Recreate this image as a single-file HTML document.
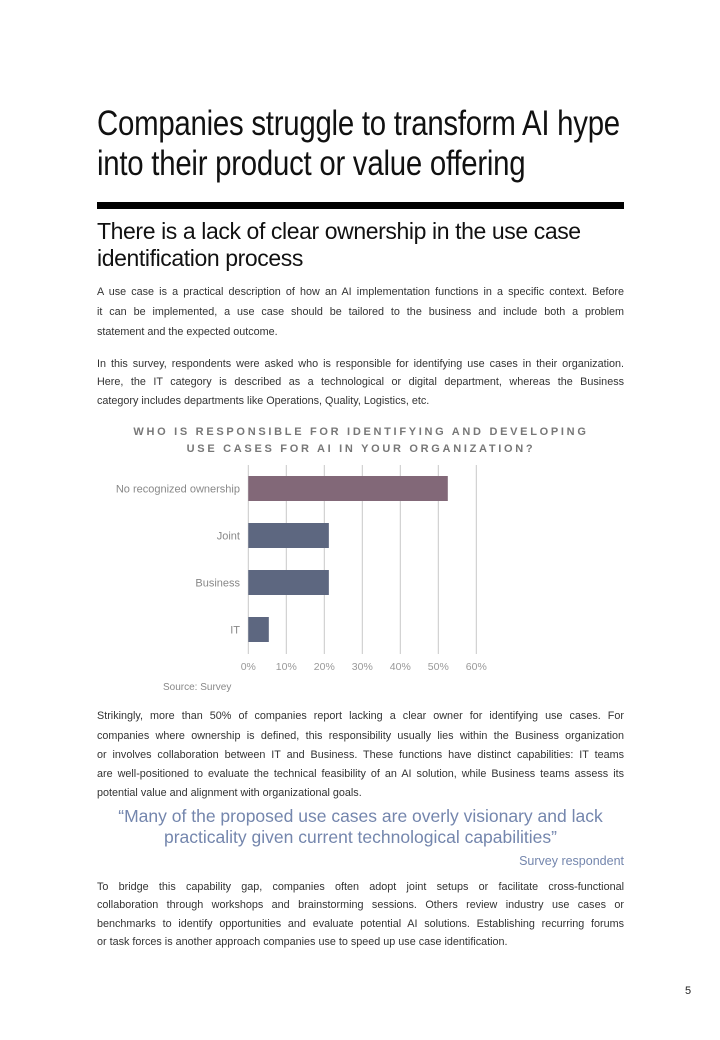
<!DOCTYPE html>
<html><head><meta charset="utf-8">
<style>
body{margin:0;background:#fff;}
#page{position:relative;width:720px;height:1040px;overflow:hidden;font-family:"Liberation Sans",sans-serif;color:#333;}
.t{position:absolute;white-space:nowrap;}
.title{left:97px;font-size:35px;color:#111;transform:scaleX(0.84);transform-origin:left top;letter-spacing:-0.3px;}
.sub{left:97px;font-size:23px;color:#111;letter-spacing:-0.4px;}
.ln{position:absolute;left:97px;width:527px;font-size:10.8px;white-space:nowrap;text-align:justify;text-align-last:justify;color:#333;}
.ln.l{text-align-last:left;}
.quote{position:absolute;left:97px;width:527px;text-align:center;font-size:17.5px;line-height:21px;color:#7486ad;}
</style></head>
<body>
<div id="page">
<div class="t title" style="top:104px">Companies struggle to transform AI hype</div>
<div class="t title" style="top:144px">into their product or value offering</div>
<div style="position:absolute;left:97px;top:202px;width:527px;height:7px;background:#000"></div>
<div class="t sub" style="top:218px">There is a lack of clear ownership in the use case</div>
<div class="t sub" style="top:245px">identification process</div>

<div>
<div class="ln" style="top:286px">A use case is a practical description of how an AI implementation functions in a specific context. Before</div>
<div class="ln" style="top:306px">it can be implemented, a use case should be tailored to the business and include both a problem</div>
<div class="ln l" style="top:326px">statement and the expected outcome.</div>
</div>
<div>
<div class="ln" style="top:358px">In this survey, respondents were asked who is responsible for identifying use cases in their organization.</div>
<div class="ln" style="top:376px">Here, the IT category is described as a technological or digital department, whereas the Business</div>
<div class="ln l" style="top:395px">category includes departments like Operations, Quality, Logistics, etc.</div>
</div>

<svg id="chart" style="position:absolute;left:0;top:0" width="720" height="700">
<text x="361" y="435" text-anchor="middle" font-size="11" font-weight="bold" fill="#777" letter-spacing="2.7">WHO IS RESPONSIBLE FOR IDENTIFYING AND DEVELOPING</text>
<text x="361" y="452" text-anchor="middle" font-size="11" font-weight="bold" fill="#777" letter-spacing="2.7">USE CASES FOR AI IN YOUR ORGANIZATION?</text>
<g id="grid"></g><g id="bars"></g><g id="labels"></g>
<text x="163" y="690" font-size="10" fill="#888">Source: Survey</text>
</svg>

<div>
<div class="ln" style="top:710px">Strikingly, more than 50% of companies report lacking a clear owner for identifying use cases. For</div>
<div class="ln" style="top:730px">companies where ownership is defined, this responsibility usually lies within the Business organization</div>
<div class="ln" style="top:749px">or involves collaboration between IT and Business. These functions have distinct capabilities: IT teams</div>
<div class="ln" style="top:768px">are well-positioned to evaluate the technical feasibility of an AI solution, while Business teams assess its</div>
<div class="ln l" style="top:787px">potential value and alignment with organizational goals.</div>
</div>
<div class="quote" style="top:806px">“Many of the proposed use cases are overly visionary and lack<br>practicality given current technological capabilities”</div>
<div class="t" style="right:96px;top:854px;font-size:12.5px;color:#7486ad">Survey respondent</div>
<div>
<div class="ln" style="top:881px">To bridge this capability gap, companies often adopt joint setups or facilitate cross-functional</div>
<div class="ln" style="top:899px">collaboration through workshops and brainstorming sessions. Others review industry use cases or</div>
<div class="ln" style="top:918px">benchmarks to identify opportunities and evaluate potential AI solutions. Establishing recurring forums</div>
<div class="ln l" style="top:936px">or task forces is another approach companies use to speed up use case identification.</div>
</div>
<div class="t" style="left:685px;top:985px;font-size:11px;color:#222">5</div>
</div>
<script>
const categories=["No recognized ownership","Joint","Business","IT"];
const values=[52.5,21.2,21.2,5.4];
const ticks=[0,10,20,30,40,50,60];
const tickLabels=["0%","10%","20%","30%","40%","50%","60%"];
const barColors=["#826878","#5d6780","#5d6780","#5d6780"];
const NS="http://www.w3.org/2000/svg";
const x0=248.3,pxPer=3.8;
const xs=v=>x0+v*pxPer;
const yTop=465,band=47,barH=25,yFirst=476;
const ys=i=>yFirst+i*band;
const grid=document.getElementById('grid'),bars=document.getElementById('bars'),labels=document.getElementById('labels');
ticks.forEach((t,i)=>{
 const l=document.createElementNS(NS,'line');
 l.setAttribute('x1',xs(t));l.setAttribute('x2',xs(t));l.setAttribute('y1',yTop);l.setAttribute('y2',654);
 l.setAttribute('stroke','#c8c8c8');l.setAttribute('stroke-width','1');
 
 
 grid.appendChild(l);
 const tx=document.createElementNS(NS,'text');
 tx.setAttribute('x',xs(t));tx.setAttribute('y',670);tx.setAttribute('text-anchor','middle');
 tx.setAttribute('font-size','10.5');tx.setAttribute('fill','#999');
 tx.textContent=tickLabels[i];
 
 
 labels.appendChild(tx);
});
categories.forEach((c,i)=>{
 const r=document.createElementNS(NS,'rect');
 r.setAttribute('x',xs(0));r.setAttribute('y',ys(i));r.setAttribute('width',xs(values[i])-xs(0));r.setAttribute('height',barH);
 r.setAttribute('fill',barColors[i]);
 
 
 bars.appendChild(r);
 const tx=document.createElementNS(NS,'text');
 tx.setAttribute('x',240);tx.setAttribute('y',ys(i)+barH/2+4);tx.setAttribute('text-anchor','end');
 tx.setAttribute('font-size','11');tx.setAttribute('fill','#888');
 tx.textContent=c;
 
 
 labels.appendChild(tx);
});
</script>
</body></html>
